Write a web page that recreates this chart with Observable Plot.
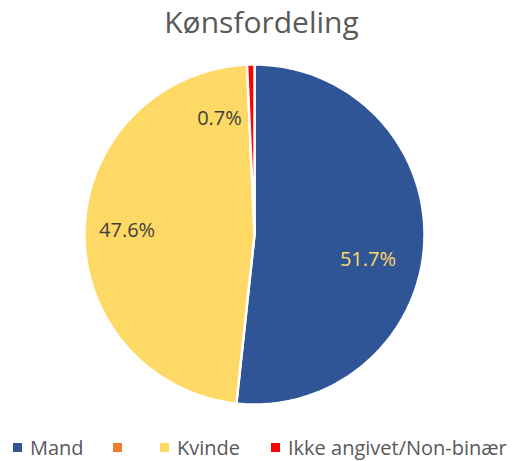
<!DOCTYPE html>
<html><head><meta charset="utf-8">
<script src="https://cdn.jsdelivr.net/npm/d3@7"></script>
<script src="https://cdn.jsdelivr.net/npm/@observablehq/plot@0.6"></script>
<style>
body{margin:0;background:#fff;font-family:"Open Sans",sans-serif;}
#wrap{position:relative;width:523px;height:461px;overflow:hidden;}
#title{position:absolute;top:7px;left:0;width:523px;text-align:center;font-size:30px;line-height:30px;color:#595959;}
#chart{position:absolute;top:50px;left:0;}
#legend{position:absolute;top:437px;left:0;width:523px;height:22px;font-size:20px;line-height:21px;color:#595959;white-space:nowrap;}
.item{position:absolute;top:0;display:flex;align-items:center;height:21px;}
.sw{width:9px;height:9px;display:inline-block;margin-right:8px;}
</style></head>
<body><div id="wrap"><div id="title">Kønsfordeling</div><div id="chart"></div><div id="legend"></div></div>
<script>
const categories = ["Mand", "", "Kvinde", "Ikke angivet/Non-binær"];
const values = [51.7, 0, 47.6, 0.7];
const colors = ["#2F5597", "#ED7D31", "#FFD966", "#FF0000"];
const labels = ["51.7%", "", "47.6%", "0.7%"];

const total = d3.sum(values);
let acc = 0;
const slices = [];
const paths = [];
values.forEach((v, i) => {
  const a0 = acc / total * 2 * Math.PI;
  acc += v;
  const a1 = acc / total * 2 * Math.PI;
  slices.push({cat: categories[i], a0, a1, mid: (a0 + a1) / 2, label: labels[i], v});
  if (v > 0) {
    const n = Math.max(2, Math.ceil((a1 - a0) / (2 * Math.PI) * 360));
    paths.push({cat: categories[i], x: 0, y: 0});
    for (let j = 0; j <= n; j++) {
      const t = a0 + (a1 - a0) * j / n;
      paths.push({cat: categories[i], x: Math.sin(t), y: Math.cos(t)});
    }
    paths.push({cat: categories[i], x: 0, y: 0});
  }
});

const labelStyle = {
  "Mand": {r: 0.68, fill: "#FFD966", anchor: "middle", dx: -2, dy: 19},
  "Kvinde": {r: 0.75, fill: "#404040", anchor: "middle", dx: 0, dy: 0},
  "Ikke angivet/Non-binær": {r: 0.72, fill: "#404040", anchor: "end", dx: -10, dy: 6}
};
const lab = slices.filter(s => s.v > 0).map(s => ({...s, ...labelStyle[s.cat],
  x: labelStyle[s.cat].r * Math.sin(s.mid), y: labelStyle[s.cat].r * Math.cos(s.mid)}));

const plot = Plot.plot({
  width: 523, height: 370,
  marginLeft: 84, marginRight: 99, marginTop: 14, marginBottom: 16,
  x: {domain: [-1, 1], axis: null},
  y: {domain: [-1, 1], axis: null},
  color: {domain: categories, range: colors},
  marks: [
    Plot.line(paths, {x: "x", y: "y", z: "cat", fill: "cat", stroke: "white", strokeWidth: 2.5, strokeLinejoin: "miter", curve: "linear"}),
    ...lab.map(d => Plot.text([d], {x: "x", y: "y", text: "label", fill: d.fill, textAnchor: d.anchor, dx: d.dx, dy: d.dy, fontSize: 20, fontFamily: "'Open Sans', sans-serif"}))
  ]
});
document.getElementById("chart").appendChild(plot);

const leg = document.getElementById("legend");
const lefts = [13, 113, 160, 271];
categories.forEach((c, i) => {
  const it = document.createElement("span");
  it.className = "item";
  it.style.left = lefts[i] + "px";
  it.innerHTML = `<span class="sw" style="background:${colors[i]}"></span><span>${c}</span>`;
  leg.appendChild(it);
});
</script></body></html>
